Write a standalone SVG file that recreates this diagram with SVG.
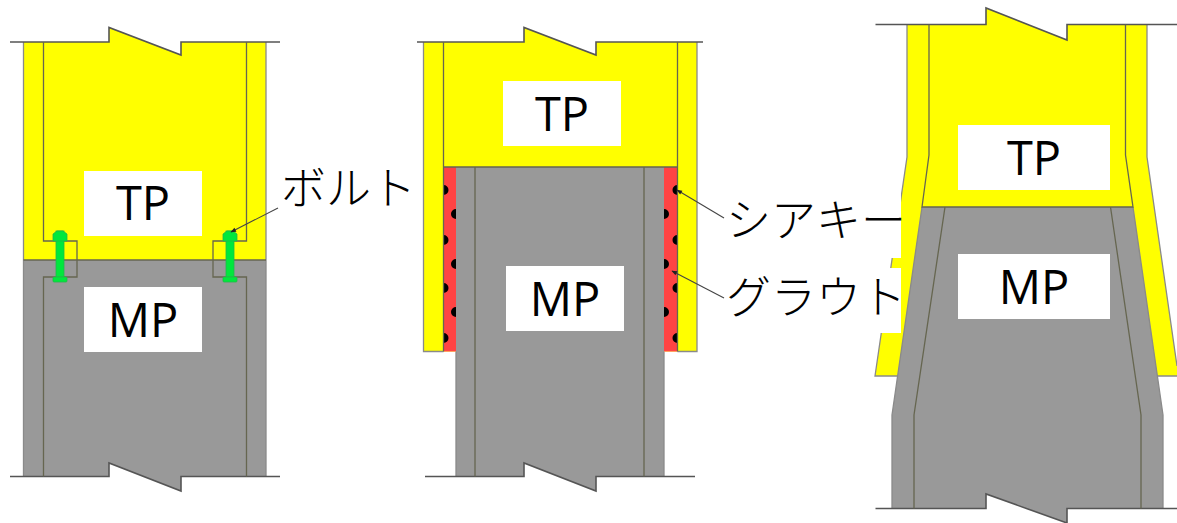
<svg xmlns="http://www.w3.org/2000/svg" width="1177" height="523" viewBox="0 0 1177 523">
<style>
.y{fill:#ffff00}
.g{fill:#999999}
.r{fill:#ff4444}
.l{fill:none;stroke:#666650;stroke-width:1.3}
.e{fill:none;stroke:#8a8a8a;stroke-width:1.3}
.k{fill:none;stroke:#555;stroke-width:1.6}
.d{fill:#000}
.b{fill:#00e83c;stroke:#22b84a;stroke-width:.8}
.w{fill:#fff}
.t{font-family:"Open Sans","Liberation Sans",sans-serif;font-size:47px;fill:#000;text-anchor:middle}
.j{font-family:"Noto Sans CJK JP","Noto Sans",sans-serif;font-size:45px;font-weight:300;fill:#000}
.ld{fill:none;stroke:#444;stroke-width:1.1}
</style>
<defs>
<marker id="a" viewBox="0 0 10 10" refX="9" refY="5" markerWidth="7" markerHeight="5" orient="auto-start-reverse"><path d="M0 1L10 5L0 9z" fill="#222"/></marker>
<g id="bolt"><rect class="b" x="-4" y="0" width="8" height="46"/><path class="b" d="M-7 3L-3 0H3L7 3V10H-7z"/><rect class="b" x="-7" y="46" width="14" height="5" rx="1"/></g>
</defs>

<g id="left-section">
<path class="g" d="M23 260H266V476H181V491L109 463V476H23z"/>
<path class="y" d="M23 42H109V27.500L181 55V42H266V260H23z"/>
<path class="e" d="M23.500 42V476M266 42V476"/>
<path class="k" d="M10 42H109V27.500L181 55V42H280M10 476.500H109V463L181 491V476.500H280"/>
<path class="l" d="M43.500 42V241H77V277H43.500V476.500M246.500 42V241H213V277H246.500V476.500M23.500 260H266"/>
<use href="#bolt" x="60" y="231"/><use href="#bolt" x="230" y="231"/>
</g>

<g id="middle-section">
<path class="y" d="M423.500 42H524V27.500L596 55V42H697V351.500H423.500z"/>
<rect class="r" x="443.500" y="167" width="234" height="184.500"/>
<path class="g" d="M456 167H664V476H596V491L524 463V476H456z"/>
<path class="d" d="M443.500 185A5 5 0 0 1 443.500 195zM443.500 235A5 5 0 0 1 443.500 245zM443.500 283A5 5 0 0 1 443.500 293zM443.500 333A5 5 0 0 1 443.500 343zM456 209A5 5 0 0 0 456 219zM456 259A5 5 0 0 0 456 269zM456 307A5 5 0 0 0 456 317zM664 209A5 5 0 0 1 664 219zM664 259A5 5 0 0 1 664 269zM664 307A5 5 0 0 1 664 317zM677.500 185A5 5 0 0 0 677.500 195zM677.500 235A5 5 0 0 0 677.500 245zM677.500 283A5 5 0 0 0 677.500 293zM677.500 333A5 5 0 0 0 677.500 343z"/>
<path class="e" d="M423.500 42V351.500H443.500M677.500 351.500H697V42M456 351.500V476M664 351.500V476"/>
<path class="k" d="M417 42H524V27.500L596 55V42H703M425 476.500H524V463L596 491V476.500H695"/>
<path class="l" d="M443.500 42V351.500M677.500 42V351.500M443.500 167H677.500M475 167V476.500M644 167V476.500"/>
</g>

<g id="right-section">
<path class="y" d="M907 24.500H986V8L1067 40V24.500H1147V157L1177 366V376H875L907 157z"/>
<path class="g" d="M922 207H1133L1163 415V508H1067V523L986 494V508H892V415z"/>
<path class="e" d="M907 24.500V157L875 376H898M1147 24.500V157L1177 366M1157 376H1177M892 415V508M1163 415V508M922 207L892 415M1133 207L1163 415"/>
<path class="k" d="M875.500 24.500H986V8L1067 40V24.500H1177M875.500 508.500H986V494L1067 523V508.500H1177"/>
<path class="l" d="M929 24.500V155L922 207H1133L1125.500 155V24.500M945 207L914 415V508.500M1110.500 207L1141 415V508.500"/>
</g>

<g id="connectors">
<path class="ld" marker-end="url(#a)" d="M278 208L231 232"/>
<path class="ld" marker-end="url(#a)" d="M724 218L677 190"/>
<path class="ld" marker-end="url(#a)" d="M724 298L672 271"/>
</g>

<g id="label-tp1"><rect class="w" x="84" y="171" width="118" height="65"/><text class="t" x="143" y="220">TP</text></g>
<g id="label-mp1"><rect class="w" x="84" y="287" width="118" height="65"/><text class="t" x="143" y="337">MP</text></g>
<g id="label-tp2"><rect class="w" x="503" y="81" width="118" height="65"/><text class="t" x="562" y="131">TP</text></g>
<g id="label-mp2"><rect class="w" x="506" y="266" width="118" height="65"/><text class="t" x="565" y="316">MP</text></g>
<g id="label-tp3"><rect class="w" x="958" y="125" width="152" height="65"/><text class="t" x="1034" y="175">TP</text></g>
<g id="label-mp3"><rect class="w" x="958" y="254" width="152" height="65"/><text class="t" x="1034" y="304">MP</text></g>
<g id="label-bolt"><text class="j" x="281" y="205">ボルト</text></g>
<g id="label-shear"><rect class="w" x="726" y="192" width="175" height="66"/><text class="j" x="726" y="237">シアキー</text></g>
<g id="label-grout"><rect class="w" x="726" y="268" width="175" height="65"/><text class="j" x="726" y="314">グラウト</text></g>
</svg>
